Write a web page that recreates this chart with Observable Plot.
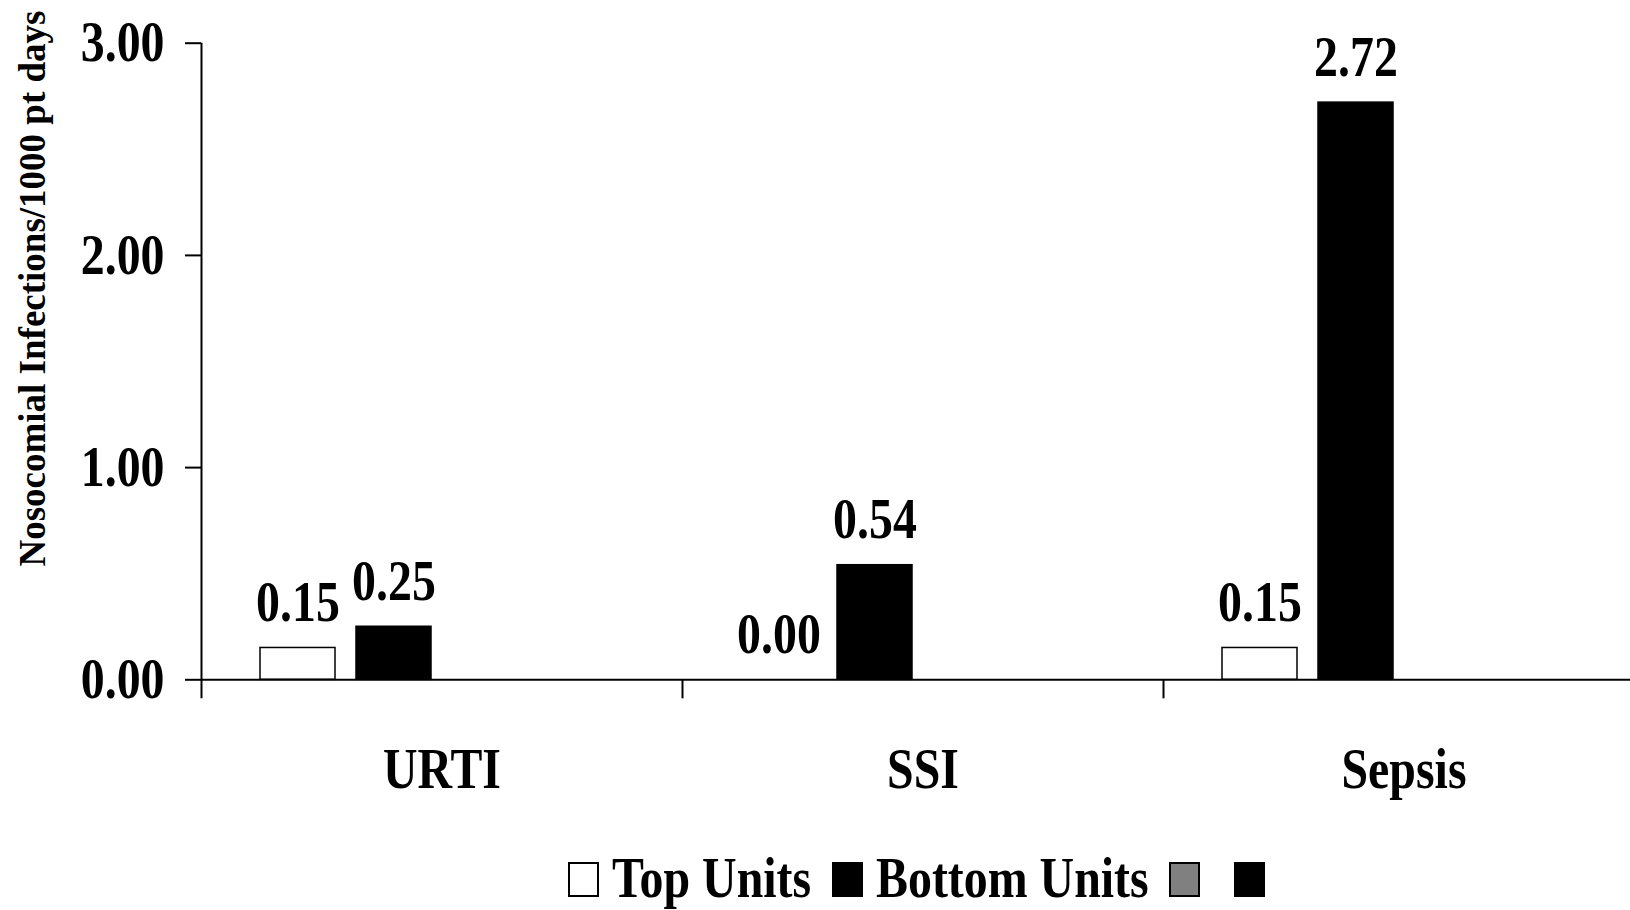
<!DOCTYPE html>
<html><head><meta charset="utf-8">
<script src="https://cdn.jsdelivr.net/npm/d3@7"></script>
<script src="https://cdn.jsdelivr.net/npm/@observablehq/plot@0.6"></script>
<style>
html,body{margin:0;padding:0;background:#fff;overflow:hidden;width:1630px;height:910px}
#chart{position:absolute;left:0;top:0}
#legend{position:absolute;left:207px;width:1432px;top:849px;display:flex;justify-content:center;align-items:baseline;font-family:'Liberation Serif','Times New Roman',serif;font-weight:bold;font-size:57px;line-height:57px;color:#000}
#legend .item{display:flex;align-items:baseline;margin-right:21px}
#legend .item:last-child{margin-right:0}
#legend .box{width:31px;height:35px;box-sizing:border-box;border:2px solid #000;margin-right:13px}
#legend .lab{display:inline-block;transform:scaleX(0.84);transform-origin:left center;white-space:pre}
</style></head><body>
<div id="chart"></div><div id="legend"></div>
<script>
// ---- data ----
const categories = ["URTI", "SSI", "Sepsis"];
const seriesKeys = ["Top Units", "Bottom Units", "Series 3", "Series 4"];
const legendLabels = ["Top Units", "Bottom Units", "", ""];
const seriesColors = ["#ffffff", "#000000", "#808080", "#000000"];
const topUnits = [0.15, 0.00, 0.15];
const bottomUnits = [0.25, 0.54, 2.72];
const yTicks = [0, 1, 2, 3];
const yTitle = "Nosocomial Infections/1000 pt days";

const rows = [];
categories.forEach((c, i) => {
  rows.push({category: c, series: seriesKeys[0], value: topUnits[i]});
  rows.push({category: c, series: seriesKeys[1], value: bottomUnits[i]});
});

// ---- layout ----
const W = 1644, H = 820, ML = 201, MT = 42.7, MB = H - 679.3;
const plotH = H - MT - MB;
const fxBand = (W - ML) / categories.length;
const FS = 57;
const SX = 0.84;

const chart = Plot.plot({
  width: W, height: H,
  marginLeft: ML, marginRight: 0, marginTop: MT, marginBottom: MB,
  style: "max-width:none;background:#fff;overflow:visible;font-family:'Liberation Serif','Times New Roman',serif;font-weight:bold;font-size:57px;color:#000",
  fx: {domain: categories, padding: 0, axis: null},
  x: {domain: seriesKeys, paddingInner: 0.216, paddingOuter: 0.588, axis: null},
  y: {domain: [0, 3]},
  color: {domain: seriesKeys, range: seriesColors},
  marks: [
    Plot.barY(rows, {fx: "category", x: "series", y: "value", fill: "series", stroke: "#000", strokeWidth: 1.5}),
    Plot.ruleY([0], {stroke: "#000", strokeWidth: 2}),
    Plot.ruleX(categories.slice(0, 1), {fx: d => d, x: null, dx: -fxBand / 2, insetBottom: -19, stroke: "#000", strokeWidth: 2}),
    Plot.ruleX(categories.slice(1), {fx: d => d, x: null, dx: -fxBand / 2, insetTop: plotH, insetBottom: -19, stroke: "#000", strokeWidth: 2}),
    Plot.axisY({ticks: yTicks, tickFormat: d => d.toFixed(2), tickSize: 16, tickPadding: 21, stroke: "#000", strokeWidth: 2, fontSize: FS, label: null, fill: "#000"}),
    Plot.text(rows, {fx: "category", x: "series", y: "value", text: d => d.value.toFixed(2), lineAnchor: "bottom", dy: -27, fontSize: FS, fill: "#000"}),
    Plot.text(categories, {fx: d => d, text: d => d, frameAnchor: "bottom", lineAnchor: "bottom", dy: 107.7, fontSize: FS, fill: "#000"}),
    Plot.text([yTitle], {fx: () => categories[0], text: d => d, frameAnchor: "top-left", rotate: -90, textAnchor: "end", lineAnchor: "bottom", dx: 44 - ML, dy: 10 - MT, fontSize: 37, fill: "#000"})
  ]
});
document.getElementById("chart").appendChild(chart);

// horizontally condensed lettering, as in the reference
chart.querySelectorAll("text").forEach(t => {
  if (t.textContent === yTitle) return;
  let tr = t.getAttribute("transform") || "";
  const x = t.getAttribute("x"), y = t.getAttribute("y");
  let pre = "";
  const xn = x != null && x !== "" && !isNaN(+x) ? +x : 0;
  const yn = y != null && y !== "" && !isNaN(+y) ? +y : 0;
  if (xn || yn) {
    pre = ` translate(${xn},${yn})`;
    if (x != null && !isNaN(+x)) t.setAttribute("x", 0);
    if (y != null && !isNaN(+y)) t.setAttribute("y", 0);
  }
  t.setAttribute("transform", (tr + pre + ` scale(${SX},1)`).trim());
});

// ---- legend ----
const legend = document.getElementById("legend");
seriesKeys.forEach((k, i) => {
  const item = document.createElement("div");
  item.className = "item";
  const box = document.createElement("div");
  box.className = "box";
  box.style.background = seriesColors[i];
  item.appendChild(box);
  const lab = document.createElement("span");
  lab.className = "lab";
  lab.textContent = legendLabels[i];
  item.appendChild(lab);
  legend.appendChild(item);
});
legend.querySelectorAll(".lab").forEach(s => {
  s.style.marginRight = (-(1 - SX) * s.offsetWidth) + "px";
});
</script>
</body></html>
